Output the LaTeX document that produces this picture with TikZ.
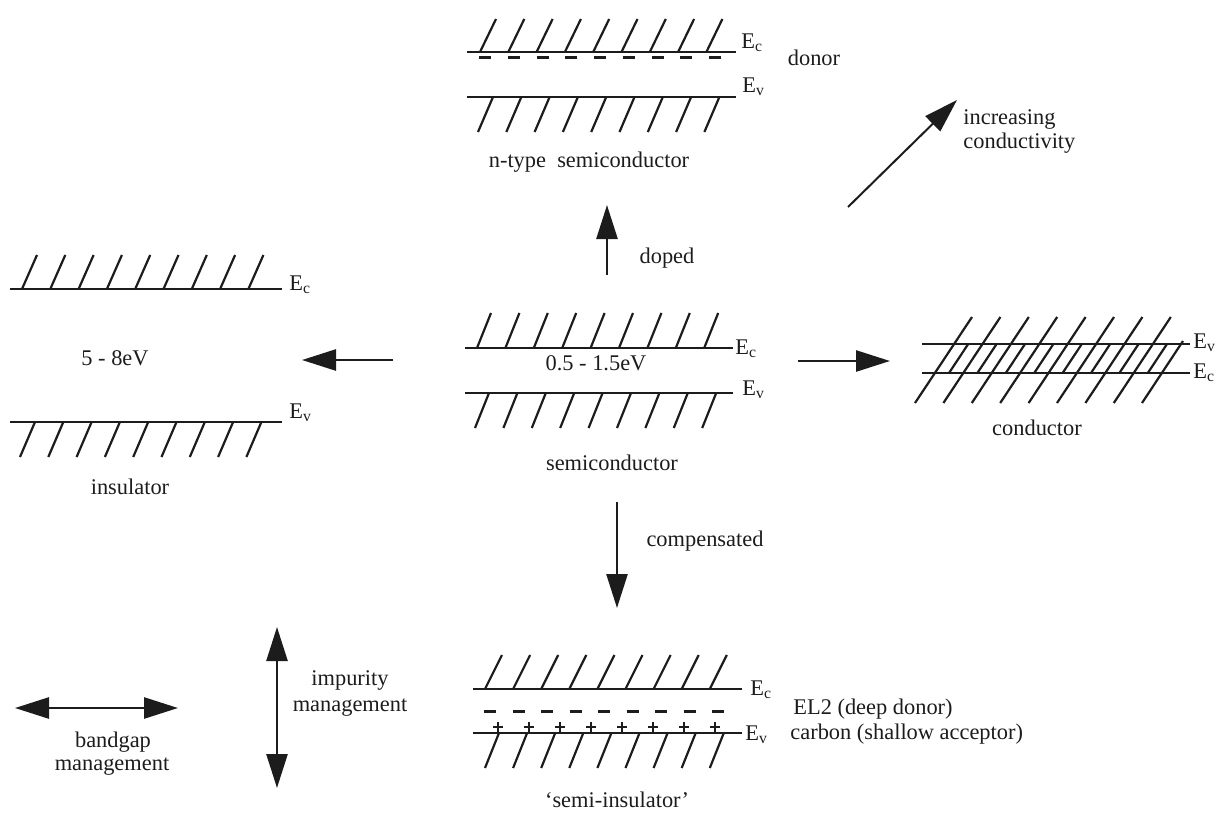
\documentclass[tikz,border=0pt]{standalone}
\usepackage{fontspec}
\setmainfont{Liberation Serif}
\usetikzlibrary{arrows.meta}
\definecolor{ink}{RGB}{28,28,28}
\newcommand\Eb[1]{E\textsubscript{#1}}
\begin{document}
\begin{tikzpicture}[x=0.5pt,y=-0.5pt,
  band/.style={ink, line width=1.4pt},
  hatch/.style={ink, line width=1.1pt},
  dashmark/.style={ink, line width=1.5pt},
  plusmark/.style={ink, line width=0.9pt},
  lbl/.style={inner sep=0pt, text=ink, font=\fontsize{11.2}{13.5}\selectfont},
  tip/.tip={Triangle[length=17pt,width=10.5pt]},
  arr/.style={ink, line width=1.3pt, -tip},
  darr/.style={ink, line width=1.3pt, tip-tip},
]
\useasboundingbox (0,0) rectangle (1222,815);

% ---------- insulator ----------
\draw[band] (10,289) -- (282,289);
\foreach \i in {0,...,8} \draw[hatch] ({22+28.3*\i},289) -- ++(15,-34);
\node[lbl, anchor=base west] (insEc) at (289,290) {\Eb{c}};
\node[lbl] (insgap) at (115,358) {5 - 8eV};
\draw[band] (10,422) -- (282,422);
\foreach \i in {0,...,8} \draw[hatch] ({35+28.3*\i},422) -- ++(-15,35);
\node[lbl, anchor=base west] (insEv) at (289,418) {\Eb{v}};
\node[lbl] (insname) at (130,487) {insulator};

% ---------- intrinsic semiconductor ----------
\draw[band] (465,348) -- (733,348);
\foreach \i in {0,...,8} \draw[hatch] ({477+28.4*\i},348) -- ++(14,-35);
\node[lbl, anchor=base west] (scEc) at (735,354) {\Eb{c}};
\node[lbl] (scgap) at (596,363) {0.5 - 1.5eV};
\draw[band] (465,393) -- (733,393);
\foreach \i in {0,...,8} \draw[hatch] ({489+28.4*\i},393) -- ++(-14,35);
\node[lbl, anchor=base west] (scEv) at (742,395) {\Eb{v}};
\node[lbl] (scname) at (612,463) {semiconductor};

% ---------- n-type semiconductor ----------
\draw[band] (467,52) -- (736,52);
\foreach \i in {0,...,8} \draw[hatch] ({480+28.3*\i},52) -- ++(16,-33);
\foreach \i in {0,...,8} \draw[dashmark] ({479+28.75*\i},57) -- ++(12,0);
\node[lbl, anchor=base west] (nEc) at (741,48) {\Eb{c}};
\node[lbl] (donor) at (814,58) {donor};
\draw[band] (467,97) -- (736,97);
\foreach \i in {0,...,8} \draw[hatch] ({493+28.3*\i},97) -- ++(-15,35);
\node[lbl, anchor=base west] (nEv) at (742,92) {\Eb{v}};
\node[lbl] (nname) at (589,162) {n-type\ \ semiconductor};

% ---------- conductor (overlapping bands) ----------
\draw[band] (922,344) -- (1190,344);
\draw[band] (922,373) -- (1190,373);
\foreach \i in {0,...,7} \draw[hatch] ({915+28.4*\i},403) -- ++(57,-86);
\draw[hatch] (1142,403) -- (1183,341);
\foreach \j in {0,...,7} \draw[hatch] ({949+28.4*\j},373) -- ++(19.2,-29);
\node[lbl, anchor=base west] (cEv) at (1193,348) {\Eb{v}};
\node[lbl, anchor=base west] (cEc) at (1193,378) {\Eb{c}};
\node[lbl] (cname) at (1037,428) {conductor};

% ---------- compensated semi-insulator ----------
\draw[band] (473,689) -- (742,689);
\foreach \i in {0,...,8} \draw[hatch] ({485+28.1*\i},689) -- ++(17,-34);
\foreach \i in {0,...,8} \draw[dashmark] ({484+28.5*\i},711) -- ++(12,0);
\draw[band] (473,733) -- (742,733);
\foreach \i in {0,...,7}
  \draw[plusmark] ({493+31*\i},727) -- ++(10,0) ({498+31*\i},722) -- ++(0,10);
\foreach \i in {0,...,8} \draw[hatch] ({499+28.1*\i},733) -- ++(-14,35);
\node[lbl, anchor=base west] (siEc) at (750,695) {\Eb{c}};
\node[lbl, anchor=base west] (siEv) at (745,740) {\Eb{v}};
\node[lbl, anchor=base west] (el2) at (793,714) {EL2 (deep donor)};
\node[lbl, anchor=base west] (carbon) at (790,739) {carbon (shallow acceptor)};
\node[lbl] (siname) at (617,800) {`semi-insulator'};

% ---------- transitions ----------
\coordinate (toInsS) at (393,360);  \coordinate (toInsE) at (302,360);
\draw[arr] (toInsS) -- (toInsE);
\coordinate (toCondS) at (798,361); \coordinate (toCondE) at (890,361);
\draw[arr] (toCondS) -- (toCondE);
\coordinate (dopS) at (607,275);    \coordinate (dopE) at (607,205);
\draw[arr] (dopS) -- (dopE);
\node[lbl] (doped) at (667,258) {doped};
\coordinate (compS) at (617,502);   \coordinate (compE) at (617,608);
\draw[arr] (compS) -- (compE);
\node[lbl] (comp) at (705,541) {compensated};

\coordinate (incS) at (848,207);    \coordinate (incE) at (957,100);
\draw[arr, line width=1pt] (incS) -- (incE);
\node[lbl, anchor=base west] (inc1) at (963,124) {increasing};
\node[lbl, anchor=base west] (inc2) at (963,148) {conductivity};

% ---------- management axes ----------
\coordinate (bgL) at (15,708);  \coordinate (bgR) at (178,708);
\draw[darr] (bgL) -- (bgR);
\node[lbl] (bg1) at (113,742) {bandgap};
\node[lbl] (bg2) at (112,767) {management};
\coordinate (imT) at (277,627); \coordinate (imB) at (277,788);
\draw[darr] (imT) -- (imB);
\node[lbl] (im1) at (350,680) {impurity};
\node[lbl] (im2) at (350,708) {management};
\end{tikzpicture}
\end{document}
